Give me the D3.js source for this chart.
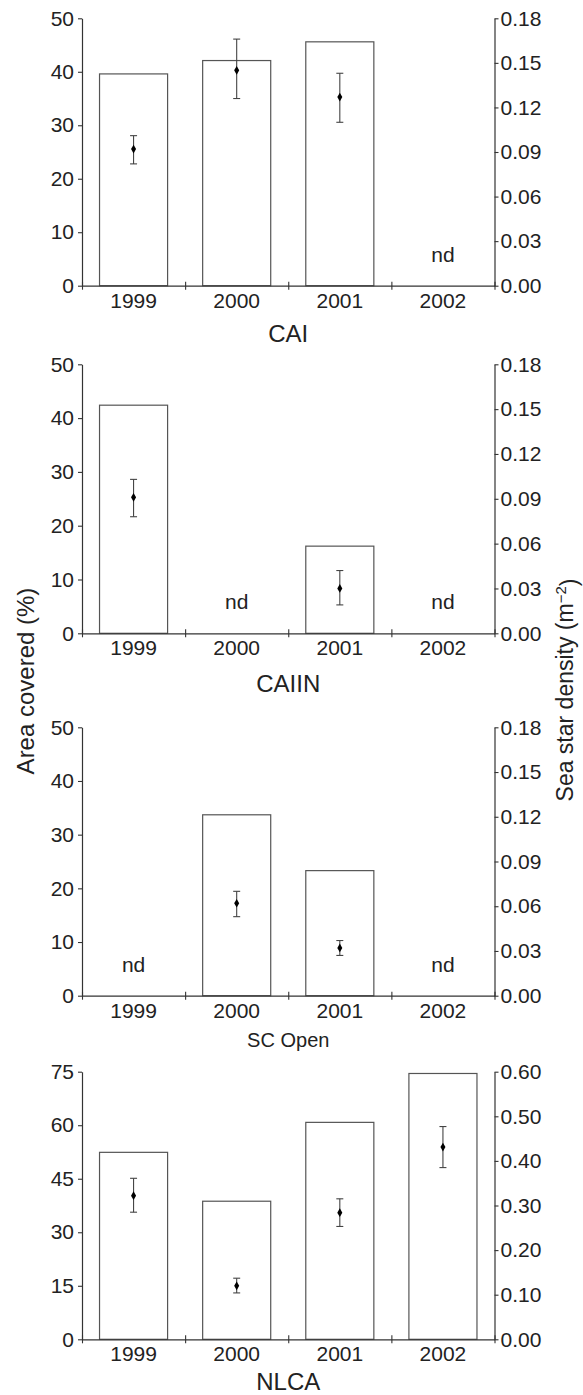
<!DOCTYPE html>
<html>
<head>
<meta charset="utf-8">
<script src="https://cdn.jsdelivr.net/npm/d3@7"></script>
<style>
  body { margin: 0; background: #fff; }
  svg text { font-family: "Liberation Sans", Arial, Helvetica, sans-serif; fill: #222; }
</style>
</head>
<body>
<div id="chart"></div>
<script>
// data
const years = ["1999", "2000", "2001", "2002"]
const sites = ["CAI", "CAIIN", "SC Open", "NLCA"]

// area covered (%) -- bars, null = nd
const areaCovered = [
    [39.6, 42.1, 45.6, null],
    [42.4, null, 16.2, null],
    [null, 33.7, 23.3, null],
    [52.4, 38.7, 60.8, 74.5]
]

// sea star density (m^-2) -- points with error bars
const densityMean = [
    [0.092, 0.145, 0.127, null],
    [0.091, null, 0.030, null],
    [null, 0.062, 0.032, null],
    [0.322, 0.120, 0.284, 0.431]
]
const densityLow = [
    [0.082, 0.126, 0.110, null],
    [0.078, null, 0.019, null],
    [null, 0.053, 0.027, null],
    [0.285, 0.104, 0.253, 0.385]
]
const densityHigh = [
    [0.101, 0.166, 0.143, null],
    [0.103, null, 0.042, null],
    [null, 0.070, 0.037, null],
    [0.361, 0.137, 0.315, 0.477]
]

const areaTicks = [
    [0, 10, 20, 30, 40, 50],
    [0, 10, 20, 30, 40, 50],
    [0, 10, 20, 30, 40, 50],
    [0, 15, 30, 45, 60, 75]
]
const densityTicks = [
    [0, 0.03, 0.06, 0.09, 0.12, 0.15, 0.18],
    [0, 0.03, 0.06, 0.09, 0.12, 0.15, 0.18],
    [0, 0.03, 0.06, 0.09, 0.12, 0.15, 0.18],
    [0, 0.1, 0.2, 0.3, 0.4, 0.5, 0.6]
]

// layout
let width = 583,
    height = 1395
const left = 82, right = 494.5
const panelTop = [18.3, 364.3, 727.3, 1071.7]
const panelBottom = [285.7, 633.3, 995.7, 1339.3]
const titleY = [342, 692, 1047, 1390]
const titleSize = [24, 24, 20, 24]
const tickFont = "21px"

let svg = d3.select("#chart")
    .append("svg")
    .attr("width", width)
    .attr("height", height)

let x = d3.scaleBand().domain(years).range([left, right]).padding(0)
let barW = x.bandwidth() * 0.66

sites.forEach(function (site, i) {
    let g = svg.append("g").attr("class", "panel")

    let yArea = d3.scaleLinear()
        .domain([0, d3.max(areaTicks[i])])
        .range([panelBottom[i], panelTop[i]])
    let yDens = d3.scaleLinear()
        .domain([0, d3.max(densityTicks[i])])
        .range([panelBottom[i], panelTop[i]])

    // bars
    let bars = years.map(function (yr, j) { return {year: yr, value: areaCovered[i][j]} })
    g.selectAll(".bar")
        .data(bars.filter(function (d) { return d.value != null }))
        .enter().append("rect")
        .attr("class", "bar")
        .attr("x", function (d) { return x(d.year) + (x.bandwidth() - barW) / 2 })
        .attr("width", barW)
        .attr("y", function (d) { return yArea(d.value) })
        .attr("height", function (d) { return yArea(0) - yArea(d.value) })
        .attr("fill", "#fff")
        .attr("stroke", "#555")
        .attr("stroke-width", 1.2)

    // nd labels
    g.selectAll(".nd")
        .data(bars.filter(function (d) { return d.value == null }))
        .enter().append("text")
        .attr("class", "nd")
        .attr("x", function (d) { return x(d.year) + x.bandwidth() / 2 })
        .attr("y", yArea(0) - 24)
        .attr("text-anchor", "middle")
        .style("font-size", tickFont)
        .text("nd")

    // error bars
    let pts = years.map(function (yr, j) {
        return {year: yr, mean: densityMean[i][j], lo: densityLow[i][j], hi: densityHigh[i][j]}
    }).filter(function (d) { return d.mean != null })

    let cx = function (d) { return x(d.year) + x.bandwidth() / 2 }
    let eb = g.selectAll(".err").data(pts).enter().append("g").attr("class", "err")
        .attr("stroke", "#444").attr("stroke-width", 1.1)
    eb.append("line")
        .attr("x1", cx).attr("x2", cx)
        .attr("y1", function (d) { return yDens(d.lo) })
        .attr("y2", function (d) { return yDens(d.hi) })
    eb.append("line")
        .attr("x1", function (d) { return cx(d) - 3.5 }).attr("x2", function (d) { return cx(d) + 3.5 })
        .attr("y1", function (d) { return yDens(d.lo) }).attr("y2", function (d) { return yDens(d.lo) })
    eb.append("line")
        .attr("x1", function (d) { return cx(d) - 3.5 }).attr("x2", function (d) { return cx(d) + 3.5 })
        .attr("y1", function (d) { return yDens(d.hi) }).attr("y2", function (d) { return yDens(d.hi) })

    g.selectAll(".pt").data(pts).enter().append("path")
        .attr("class", "pt")
        .attr("d", d3.symbol(d3.symbolDiamond, 22))
        .attr("transform", function (d) { return "translate(" + cx(d) + "," + yDens(d.mean) + ")" })
        .attr("fill", "#000")

    // left / right axes
    let axL = g.append("g")
        .attr("transform", "translate(" + left + ",0)")
        .call(d3.axisLeft(yArea).tickValues(areaTicks[i]).tickSize(4).tickSizeOuter(0).tickPadding(4))
    let axR = g.append("g")
        .attr("transform", "translate(" + right + ",0)")
        .call(d3.axisRight(yDens).tickValues(densityTicks[i]).tickFormat(d3.format(".2f"))
            .tickSize(4).tickSizeOuter(0).tickPadding(2))

    // x axis: labels + boundary ticks
    let axB = g.append("g")
        .attr("transform", "translate(0," + panelBottom[i] + ")")
        .call(d3.axisBottom(x).tickSize(0).tickPadding(7))
    let bounds = d3.scaleLinear().domain([0, years.length]).range([left, right])
    let axT = g.append("g")
        .attr("transform", "translate(0," + panelBottom[i] + ")")
        .call(d3.axisBottom(bounds).ticks(years.length).tickSize(4).tickSizeOuter(0).tickFormat(""))
    axT.selectAll(".tick line").attr("y1", -4)
    axT.select(".domain").remove()

    ;[axL, axR, axB, axT].forEach(function (a) {
        a.selectAll("text").style("font-size", tickFont).attr("fill", "#222")
            .style("font-family", '"Liberation Sans", Arial, sans-serif')
        a.selectAll("line").attr("stroke", "#333").attr("stroke-width", 1.1)
        a.selectAll(".domain").attr("stroke", "#333").attr("stroke-width", 1.2)
    })

    // site name
    g.append("text")
        .attr("x", (left + right) / 2)
        .attr("y", titleY[i])
        .attr("text-anchor", "middle")
        .style("font-size", titleSize[i] + "px")
        .text(site)
})

// axis titles
svg.append("text")
    .attr("transform", "translate(34,681) rotate(-90)")
    .attr("text-anchor", "middle")
    .style("font-size", "24px")
    .text("Area covered (%)")

let rt = svg.append("text")
    .attr("transform", "translate(573,690) rotate(-90)")
    .attr("text-anchor", "middle")
    .style("font-size", "23px")
rt.append("tspan").text("Sea star density (m")
rt.append("tspan").text("\u22122").attr("dy", "-0.45em").style("font-size", "15px")
rt.append("tspan").text(")").attr("dy", "0.45em")
</script>
</body>
</html>
